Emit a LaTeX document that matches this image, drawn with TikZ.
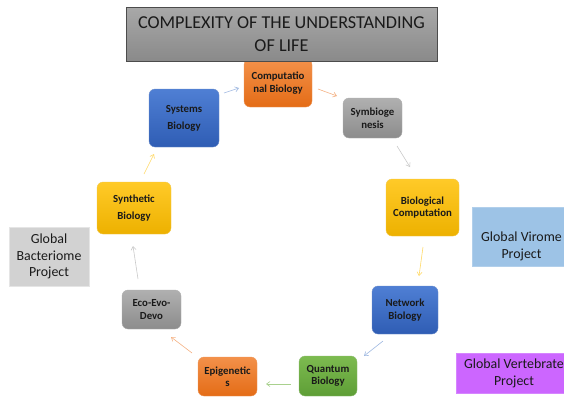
\documentclass[tikz,border=0pt]{standalone}
\usepackage{fontspec}
\setmainfont{Carlito}
\usetikzlibrary{arrows.meta}
\definecolor{txt}{HTML}{1A1A1A}
\definecolor{orange1}{HTML}{F3914A}
\definecolor{orange2}{HTML}{E46C16}
\definecolor{blue1}{HTML}{4F7FD4}
\definecolor{blue2}{HTML}{2F5DB4}
\definecolor{gray1}{HTML}{B0B0B0}
\definecolor{gray2}{HTML}{8C8C8C}
\definecolor{yellow1}{HTML}{FFCA28}
\definecolor{yellow2}{HTML}{EDB100}
\definecolor{green1}{HTML}{7DBB50}
\definecolor{green2}{HTML}{5E9E36}
\definecolor{HTMLvir}{HTML}{9DC3E6}
\definecolor{HTMLvert}{HTML}{CC66FF}
\definecolor{HTMLay}{HTML}{FFD966}
\definecolor{HTMLab}{HTML}{9DB7E0}
\definecolor{HTMLao}{HTML}{F4B183}
\definecolor{HTMLag}{HTML}{C9C9C9}
\definecolor{HTMLagr}{HTML}{A9D18E}
\tikzset{
  boxn/.style={rounded corners=6pt, align=center, inner sep=1pt, text=txt,
     font=\fontsize{10.8}{12.5}\selectfont\bfseries},
  wide/.style={font=\fontsize{10.8}{17}\selectfont\bfseries},
  orangebox/.style={boxn, top color=orange1, bottom color=orange2, draw=orange2!70!white, line width=0.4pt},
  bluebox/.style={boxn, top color=blue1, bottom color=blue2, draw=blue2!70!white, line width=0.4pt},
  graybox/.style={boxn, top color=gray1, bottom color=gray2, draw=gray2!70!white, line width=0.4pt},
  yellowbox/.style={boxn, top color=yellow1, bottom color=yellow2, draw=yellow2!70!white, line width=0.4pt},
  greenbox/.style={boxn, top color=green1, bottom color=green2, draw=green2!70!white, line width=0.4pt},
  sidebox/.style={align=center, inner sep=1pt, text=txt, font=\fontsize{13.9}{16.8}\selectfont},
  arr/.style={line width=0.6pt, -{Straight Barb[length=3.5pt,width=5pt]}},
}
\begin{document}
\begin{tikzpicture}[x=1pt,y=-1pt]
\useasboundingbox (0,0) rectangle (564,397);
\clip (0,0) rectangle (564,397);
% nodes
\node[orangebox, minimum width=68pt, minimum height=48pt] (comp) at (278,83) {Computatio\\nal Biology};
\node[bluebox, wide, minimum width=70pt, minimum height=58pt] (sys) at (184,118) {Systems\\Biology};
\node[graybox, minimum width=59pt, minimum height=40pt] (sym) at (372.5,118) {Symbioge\\nesis};
\node[yellowbox, minimum width=73pt, minimum height=57pt] (bio) at (422.5,207.5) {Biological\\Computation};
\node[bluebox, minimum width=66pt, minimum height=48pt] (net) at (405,310) {Network\\Biology};
\node[greenbox, minimum width=58pt, minimum height=40pt] (quan) at (328,376) {Quantum\\Biology};
\node[orangebox, minimum width=59pt, minimum height=39pt] (epi) at (227.5,376.5) {Epigenetic\\s};
\node[graybox, minimum width=59pt, minimum height=39pt] (eco) at (151.5,309.5) {Eco-Evo-\\Devo};
\node[yellowbox, wide, minimum width=74pt, minimum height=52pt] (syn) at (134,208) {Synthetic\\Biology};
% side boxes
\node[sidebox, fill=gray!35, draw=gray!20, minimum width=80pt, minimum height=59pt] (bact) at (49,256.5) {Global\\Bacteriome\\Project};
\node[fill=HTMLvir, draw=HTMLvir!80!white, minimum width=100pt, minimum height=59pt, inner sep=0pt] (vir) at (522,236.5) {};
\node[sidebox] (virt) at (521.5,246.5) {Global Virome\\Project};
\node[sidebox, fill=HTMLvert, draw=HTMLvert!80!white, minimum width=116pt, minimum height=40pt] (vert) at (514,373) {Global Vertebrate\\Project};
% title
\node[top color=gray!68, bottom color=gray!92, draw=gray!60!black, line width=0.5pt, minimum width=311pt, minimum height=54pt, align=center, inner sep=1pt, text=txt, font=\fontsize{18.2}{23.5}\selectfont] (title) at (281.5,34) {COMPLEXITY OF THE UNDERSTANDING\\OF LIFE};
% arrows
\coordinate (a1s) at (144,174); \coordinate (a1e) at (154,154);
\coordinate (a2s) at (224,93);  \coordinate (a2e) at (239,88);
\coordinate (a3s) at (318,89);  \coordinate (a3e) at (337,96);
\coordinate (a4s) at (397,146); \coordinate (a4e) at (410,167);
\coordinate (a5s) at (423,247); \coordinate (a5e) at (419,276);
\coordinate (a6s) at (383,341); \coordinate (a6e) at (364,356);
\coordinate (a7s) at (291,384); \coordinate (a7e) at (266,384);
\coordinate (a8s) at (192,353); \coordinate (a8e) at (171,337);
\coordinate (a9s) at (138,279); \coordinate (a9e) at (133,246);
\draw[arr, color=HTMLay] (a1s) -- (a1e);
\draw[arr, color=HTMLab] (a2s) -- (a2e);
\draw[arr, color=HTMLao] (a3s) -- (a3e);
\draw[arr, color=HTMLag] (a4s) -- (a4e);
\draw[arr, color=HTMLay] (a5s) -- (a5e);
\draw[arr, color=HTMLab] (a6s) -- (a6e);
\draw[arr, color=HTMLagr] (a7s) -- (a7e);
\draw[arr, color=HTMLao] (a8s) -- (a8e);
\draw[arr, color=HTMLag] (a9s) -- (a9e);
\end{tikzpicture}
\end{document}
